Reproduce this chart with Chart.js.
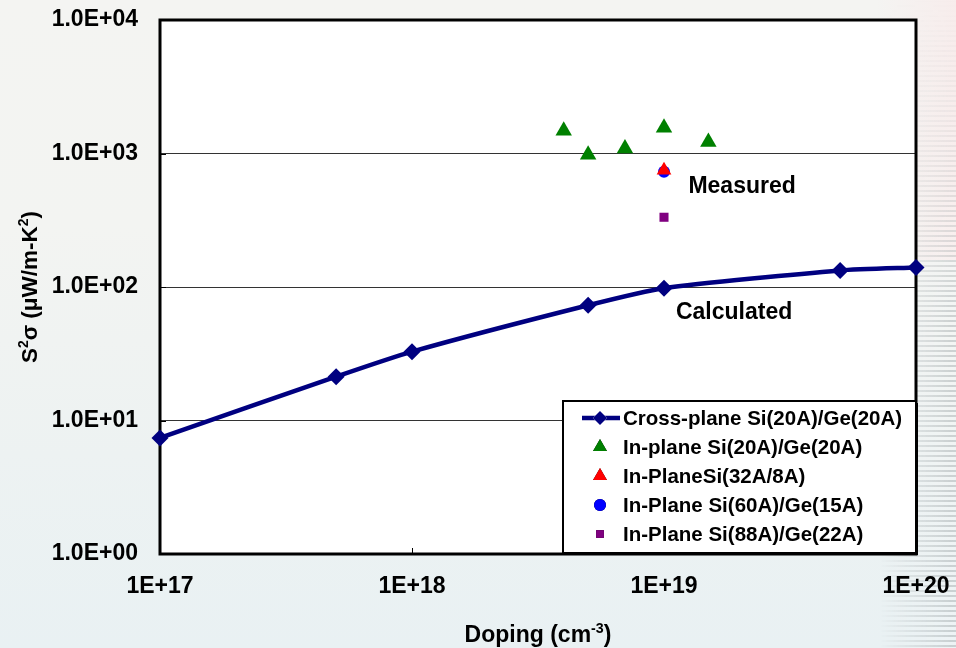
<!DOCTYPE html>
<html>
<head>
<meta charset="utf-8">
<script src="https://cdn.jsdelivr.net/npm/chart.js@4/dist/chart.umd.min.js"></script>
<style>
  html, body { margin: 0; padding: 0; }
  body {
    width: 956px; height: 648px; overflow: hidden; position: relative;
    background: linear-gradient(to bottom, #f4f4f2 0%, #f3f4f2 35%, #edf2f2 70%, #e9f1f3 100%);
  }
  #stripesH {
    position: absolute; left: 0; top: 0; width: 956px; height: 648px;
    -webkit-mask-image: linear-gradient(to right, transparent 0px, transparent 880px, #000 950px);
    mask-image: linear-gradient(to right, transparent 0px, transparent 880px, #000 950px);
  }
  #stripes {
    position: absolute; left: 0; top: 0; width: 956px; height: 648px;
    background: repeating-linear-gradient(to bottom,
      rgba(170,176,178,0.5) 0px, rgba(170,176,178,0.5) 2px,
      rgba(255,255,255,0.2) 2px, rgba(255,255,255,0.2) 5px);
    -webkit-mask-image: linear-gradient(to bottom, transparent 0px, rgba(0,0,0,0.25) 120px, #000 320px, #000 648px);
    mask-image: linear-gradient(to bottom, transparent 0px, rgba(0,0,0,0.25) 120px, #000 320px, #000 648px);
  }
  #pink {
    position: absolute; right: 0; top: 0; width: 80px; height: 260px;
    background: linear-gradient(to right, rgba(250,235,235,0), rgba(250,232,232,0.6));
  }
  canvas { position: absolute; left: 0; top: 0; }
</style>
</head>
<body>
<div id="pink"></div>
<div id="stripesH"><div id="stripes"></div></div>
<canvas id="chart" width="956" height="648"></canvas>
<script>
// Doping levels (cm^-3) and calculated cross-plane power factor (uW/m-K^2)
const calcDoping = [1e17, 5e17, 1e18, 5e18, 1e19, 5e19, 1e20];
const calcPower  = [7.4, 21.3, 32.8, 73, 98, 133, 140];

// Measured in-plane power factors
const ip20Doping = [4e18, 5e18, 7e18, 1e19, 1.5e19];
const ip20Power  = [1480, 980, 1090, 1560, 1220];
const ip32Doping = [1e19];
const ip32Power  = [750];
const ip60Doping = [1e19];
const ip60Power  = [730];
const ip88Doping = [1e19];
const ip88Power  = [333];

const seriesNames = [
  'Cross-plane Si(20A)/Ge(20A)',
  'In-plane Si(20A)/Ge(20A)',
  'In-PlaneSi(32A/8A)',
  'In-Plane Si(60A)/Ge(15A)',
  'In-Plane Si(88A)/Ge(22A)'
];

const xTickValues = [1e17, 1e18, 1e19, 1e20];
const xTickLabels = ['1E+17', '1E+18', '1E+19', '1E+20'];
const yTickValues = [1, 10, 100, 1000, 10000];
const yTickLabels = ['1.0E+00', '1.0E+01', '1.0E+02', '1.0E+03', '1.0E+04'];

const FONT = "'Liberation Sans', Arial, Helvetica, sans-serif";

const pts = (xs, ys) => xs.map((x, i) => ({ x: x, y: ys[i] }));

// Scales keep a fixed size and claim no extra room for label overhang
function fixScale(size) {
  return s => {
    if (s.isHorizontal()) s.height = size; else s.width = size;
    s.paddingTop = 0; s.paddingBottom = 0; s.paddingLeft = 0; s.paddingRight = 0;
  };
}

// Draws a run of text pieces, some raised as superscripts, centred on (0,0)
function drawRich(ctx, parts, size) {
  const supSize = size * 0.62;
  let total = 0;
  const widths = parts.map(p => {
    ctx.font = 'bold ' + (p.sup ? supSize : size) + 'px ' + FONT;
    const w = ctx.measureText(p.t).width;
    total += w;
    return w;
  });
  let x = -total / 2;
  ctx.textBaseline = 'alphabetic';
  ctx.textAlign = 'left';
  parts.forEach((p, i) => {
    ctx.font = 'bold ' + (p.sup ? supSize : size) + 'px ' + FONT;
    ctx.fillText(p.t, x, size * 0.36 - (p.sup ? size * 0.42 : 0));
    x += widths[i];
  });
}

// Plot frame, white panel, inward tick marks
const framePlugin = {
  id: 'frame',
  beforeDraw(chart) {
    const { ctx, chartArea: a } = chart;
    ctx.save();
    ctx.fillStyle = '#ffffff';
    ctx.fillRect(a.left, a.top, a.right - a.left, a.bottom - a.top);
    ctx.restore();
  },
  beforeDatasetsDraw(chart) {
    const { ctx, chartArea: a, scales } = chart;
    ctx.save();
    ctx.strokeStyle = '#000';
    ctx.lineWidth = 1;
    yTickValues.forEach(v => {
      const y = Math.round(scales.y.getPixelForValue(v)) + 0.5;
      ctx.beginPath(); ctx.moveTo(a.left, y); ctx.lineTo(a.left + 6, y); ctx.stroke();
    });
    xTickValues.forEach(v => {
      const x = Math.round(scales.x.getPixelForValue(v)) + 0.5;
      ctx.beginPath(); ctx.moveTo(x, a.bottom); ctx.lineTo(x, a.bottom - 6); ctx.stroke();
    });
    ctx.lineWidth = 3;
    ctx.strokeRect(a.left, a.top, a.right - a.left, a.bottom - a.top);
    ctx.restore();
  }
};

// Axis titles with superscripts, plus text annotations
const textPlugin = {
  id: 'texts',
  afterDraw(chart, args, opts) {
    const { ctx, chartArea: a, scales } = chart;
    ctx.save();
    ctx.fillStyle = '#000';
    // x title
    ctx.save();
    ctx.translate((a.left + a.right) / 2, 634);
    drawRich(ctx, [{ t: 'Doping (cm' }, { t: '-3', sup: true }, { t: ')' }], 23);
    ctx.restore();
    // y title
    ctx.save();
    ctx.translate(29, (a.top + a.bottom) / 2);
    ctx.rotate(-Math.PI / 2);
    drawRich(ctx, [{ t: 'S' }, { t: '2', sup: true }, { t: '\u03C3 (\u03BCW/m-K' }, { t: '2', sup: true }, { t: ')' }], 22.5);
    ctx.restore();
    // annotations
    ctx.font = 'bold 23px ' + FONT;
    ctx.textAlign = 'left';
    ctx.textBaseline = 'middle';
    opts.notes.forEach(n => {
      ctx.fillText(n.text, scales.x.getPixelForValue(n.x), scales.y.getPixelForValue(n.y));
    });
    ctx.restore();
  }
};

// Boxed legend in the lower right corner of the plot
const boxLegendPlugin = {
  id: 'boxLegend',
  afterDatasetsDraw(chart) {
    const { ctx, chartArea: a } = chart;
    const l = a.left + 403, t = a.top + 381, r = a.right, b = a.bottom - 1;
    ctx.save();
    ctx.fillStyle = '#000';
    ctx.fillRect(l + 2, t + 2, r - l, b - t);
    ctx.fillStyle = '#fff';
    ctx.fillRect(l, t, r - l, b - t);
    ctx.strokeStyle = '#000';
    ctx.lineWidth = 2;
    ctx.strokeRect(l, t, r - l, b - t);

    const mx = l + 37, tx = l + 60;
    chart.data.datasets.forEach((ds, i) => {
      const y = t + 17 + i * 29;
      if (ds.showLine) {
        ctx.strokeStyle = ds.borderColor;
        ctx.lineWidth = ds.borderWidth;
        ctx.beginPath(); ctx.moveTo(mx - 18, y); ctx.lineTo(mx + 20, y); ctx.stroke();
      }
      Chart.helpers.drawPoint(ctx, {
        pointStyle: ds.pointStyle,
        radius: ds.legendRadius,
        rotation: 0,
        borderWidth: 0
      }, mx, y);
      ctx.fillStyle = ds.pointBackgroundColor;
      ctx.fill();
      ctx.fillStyle = '#000';
      ctx.font = 'bold 20.5px ' + FONT;
      ctx.textAlign = 'left';
      ctx.textBaseline = 'middle';
      ctx.fillText(seriesNames[i], tx, y + 1);
    });
    ctx.restore();
  }
};

new Chart(document.getElementById('chart'), {
  type: 'scatter',
  data: {
    datasets: [
      {
        label: seriesNames[0], data: pts(calcDoping, calcPower), showLine: true,
        borderColor: '#000080', borderWidth: 4.5, tension: 0.2,
        pointStyle: 'rectRot', pointRadius: 8.5, pointBackgroundColor: '#000080',
        pointBorderWidth: 0, legendRadius: 7, clip: false
      },
      {
        label: seriesNames[1], data: pts(ip20Doping, ip20Power),
        pointStyle: 'triangle', pointRadius: 9.5, pointBackgroundColor: '#008000',
        borderColor: '#008000', pointBorderWidth: 0, legendRadius: 8, clip: false
      },
      {
        label: seriesNames[2], data: pts(ip32Doping, ip32Power),
        pointStyle: 'triangle', pointRadius: 8.5, pointBackgroundColor: '#ff0000',
        borderColor: '#ff0000', pointBorderWidth: 0, legendRadius: 8, clip: false
      },
      {
        label: seriesNames[3], data: pts(ip60Doping, ip60Power),
        pointStyle: 'circle', pointRadius: 6, pointBackgroundColor: '#0000ff',
        borderColor: '#0000ff', pointBorderWidth: 0, legendRadius: 6, clip: false
      },
      {
        label: seriesNames[4], data: pts(ip88Doping, ip88Power),
        pointStyle: 'rect', pointRadius: 6.4, pointBackgroundColor: '#800080',
        borderColor: '#800080', pointBorderWidth: 0, legendRadius: 5.5, clip: false
      }
    ]
  },
  options: {
    responsive: false,
    animation: false,
    devicePixelRatio: 1,
    layout: { padding: { top: 20, right: 40, left: 0, bottom: 0 } },
    plugins: {
      legend: { display: false },
      tooltip: { enabled: false },
      texts: {
        notes: [
          { text: 'Measured', x: 1.25e19, y: 560 },
          { text: 'Calculated', x: 1.115e19, y: 64 }
        ]
      }
    },
    scales: {
      x: {
        type: 'logarithmic', min: 1e17, max: 1e20,
        afterBuildTicks: s => { s.ticks = xTickValues.map(v => ({ value: v })); },
        afterFit: fixScale(94),
        ticks: {
          autoSkip: false, maxRotation: 0,
          callback: v => xTickLabels[xTickValues.indexOf(v)],
          font: { family: FONT, size: 23, weight: 'bold' }, color: '#000', padding: 19
        },
        grid: { display: false, drawTicks: false },
        border: { display: false }
      },
      y: {
        type: 'logarithmic', min: 1, max: 10000,
        afterBuildTicks: s => { s.ticks = yTickValues.map(v => ({ value: v })); },
        afterFit: fixScale(160),
        ticks: {
          autoSkip: false,
          callback: v => yTickLabels[yTickValues.indexOf(v)],
          font: { family: FONT, size: 23, weight: 'bold' }, color: '#000', padding: 22
        },
        grid: { color: '#333333', lineWidth: 1, drawTicks: false },
        border: { display: false }
      }
    }
  },
  plugins: [framePlugin, boxLegendPlugin, textPlugin]
});
</script>
</body>
</html>
